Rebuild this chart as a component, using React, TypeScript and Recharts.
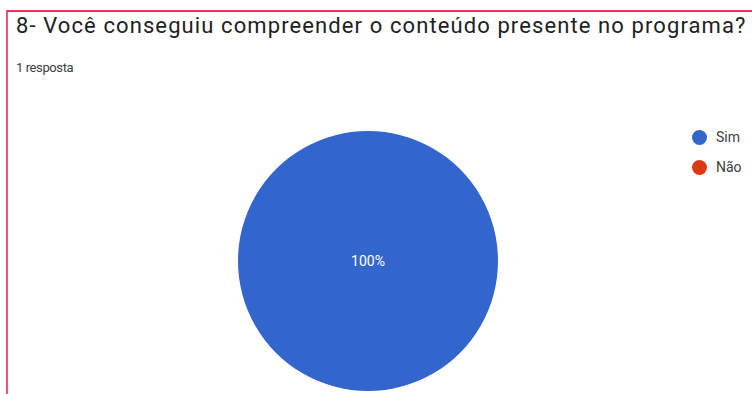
import React from "react";
import { PieChart, Pie, Cell, Legend } from "recharts";

const question = "8- Você conseguiu compreender o conteúdo presente no programa?";
const answerCount = "1 resposta";
const options = ["Sim", "Não"];
const votes = [1, 0];
const colors = ["#3366cc", "#dc3912"];

const data = options.map((name, i) => ({ name, value: votes[i] }));

const renderLabel = (props: any) => {
  const { cx, cy, midAngle, outerRadius, percent, value } = props;
  if (!value) return null;
  const r = percent >= 0.999 ? 0 : outerRadius * 0.6;
  const rad = (Math.PI / 180) * midAngle;
  const x = cx + r * Math.cos(rad);
  const y = cy - r * Math.sin(rad);
  return (
    <text
      x={x}
      y={y}
      fill="#ffffff"
      fontSize={14}
      fontFamily="Roboto, Arial, sans-serif"
      textAnchor="middle"
      dominantBaseline="central"
    >
      {`${Math.round(percent * 100)}%`}
    </text>
  );
};

const renderLegend = () => (
  <div style={{ fontFamily: "Roboto, Arial, sans-serif", fontSize: 14, color: "#3c4043" }}>
    {options.map((name, i) => (
      <div key={name} style={{ display: "flex", alignItems: "center", height: 30 }}>
        <span
          style={{
            width: 15,
            height: 15,
            borderRadius: "50%",
            background: colors[i],
            display: "inline-block",
            marginRight: 9,
          }}
        />
        {name}
      </div>
    ))}
  </div>
);

export default function App() {
  return (
    <div
      style={{
        position: "absolute",
        left: 0,
        top: 0,
        width: 752,
        height: 394,
        background: "#fff",
        overflow: "hidden",
        fontFamily: "Roboto, Arial, sans-serif",
      }}
    >
      {/* card frame */}
      <div
        style={{
          position: "absolute",
          left: 6,
          top: 10,
          width: 760,
          height: 400,
          borderLeft: "2px solid #f2557a",
          borderTop: "2px solid #ee3158",
        }}
      />
      <div
        style={{
          position: "absolute",
          left: 16,
          top: 13,
          fontSize: 22,
          letterSpacing: 1.1,
          color: "#202124",
          whiteSpace: "nowrap",
        }}
      >
        {question}
      </div>
      <div
        style={{
          position: "absolute",
          left: 16,
          top: 60,
          fontSize: 13,
          letterSpacing: -0.4,
          color: "#3c4043",
        }}
      >
        {answerCount}
      </div>
      <PieChart
        width={752}
        height={394}
        margin={{ top: 0, right: 0, bottom: 0, left: 0 }}
        style={{ position: "absolute", left: 0, top: 0 }}
      >
        <Pie
          data={data}
          dataKey="value"
          nameKey="name"
          cx={368}
          cy={261}
          outerRadius={130}
          startAngle={90}
          endAngle={-270}
          stroke="none"
          label={renderLabel}
          labelLine={false}
          isAnimationActive={false}
        >
          {data.map((d, i) => (
            <Cell key={d.name} fill={colors[i]} />
          ))}
        </Pie>
        <Legend
          content={renderLegend}
          layout="vertical"
          verticalAlign="top"
          align="right"
          wrapperStyle={{ left: 692, top: 122, width: 60 }}
        />
      </PieChart>
    </div>
  );
}
